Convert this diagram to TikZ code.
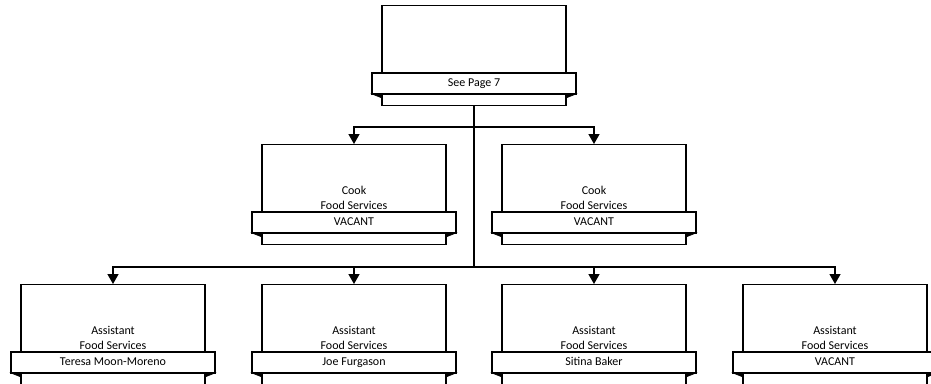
\documentclass[tikz,border=0pt]{standalone}
\usepackage{fontspec}
\setmainfont{Carlito}
\usetikzlibrary{arrows.meta}
\tikzset{
  box/.style={draw, line width=1.4pt, fill=white, minimum width=184pt, minimum height=100pt, anchor=north, inner sep=0pt},
  banner/.style={draw, line width=1.4pt, fill=white, minimum width=204pt, minimum height=21pt, inner sep=0pt, text height=8.5pt, text depth=2.5pt, font=\fontsize{12}{14}\selectfont},
  txt/.style={align=center, inner sep=0pt, font=\fontsize{12}{14.5}\selectfont},
  conn/.style={line width=1.4pt},
  arr/.style={line width=1.4pt, -{Triangle[width=11pt,length=10pt]}},
  fold/.style={fill=black, draw=black, line width=0.6pt}
}
\newcommand\orgbox[5]{%
  \node[box] (#1) at (#2,#3) {};
  \node[txt] (#1t) at (#2,#3+54) {#4};
  \node[banner] (#1b) at (#2,#3+78.5) {#5};
  \filldraw[fold] (#2-102,#3+89) -- (#2-92,#3+89) -- (#2-92,#3+93) -- cycle;
  \filldraw[fold] (#2+102,#3+89) -- (#2+92,#3+89) -- (#2+92,#3+93) -- cycle;
}
\begin{document}
\begin{tikzpicture}[x=1pt,y=-1pt]
\useasboundingbox (0,0) rectangle (931,383);
\fill[white] (0,0) rectangle (931,383);
\orgbox{top}{474}{5}{}{See Page 7}
\orgbox{cookL}{354}{144}{Cook\\Food Services}{VACANT}
\orgbox{cookR}{594}{144}{Cook\\Food Services}{VACANT}
\orgbox{a1}{113}{284}{Assistant\\Food Services}{Teresa Moon-Moreno}
\orgbox{a2}{354}{284}{Assistant\\Food Services}{Joe Furgason}
\orgbox{a3}{594}{284}{Assistant\\Food Services}{Sitina Baker}
\orgbox{a4}{835}{284}{Assistant\\Food Services}{VACANT}
\coordinate (j1) at (474,127);
\coordinate (j2) at (474,267);
\draw[conn] (top.south) -- (j2);
\draw[arr] (j1) -| (cookL.north);
\draw[arr] (j1) -| (cookR.north);
\draw[arr] (j2) -| (a1.north);
\draw[arr] (j2) -| (a2.north);
\draw[arr] (j2) -| (a3.north);
\draw[arr] (j2) -| (a4.north);
\end{tikzpicture}
\end{document}
